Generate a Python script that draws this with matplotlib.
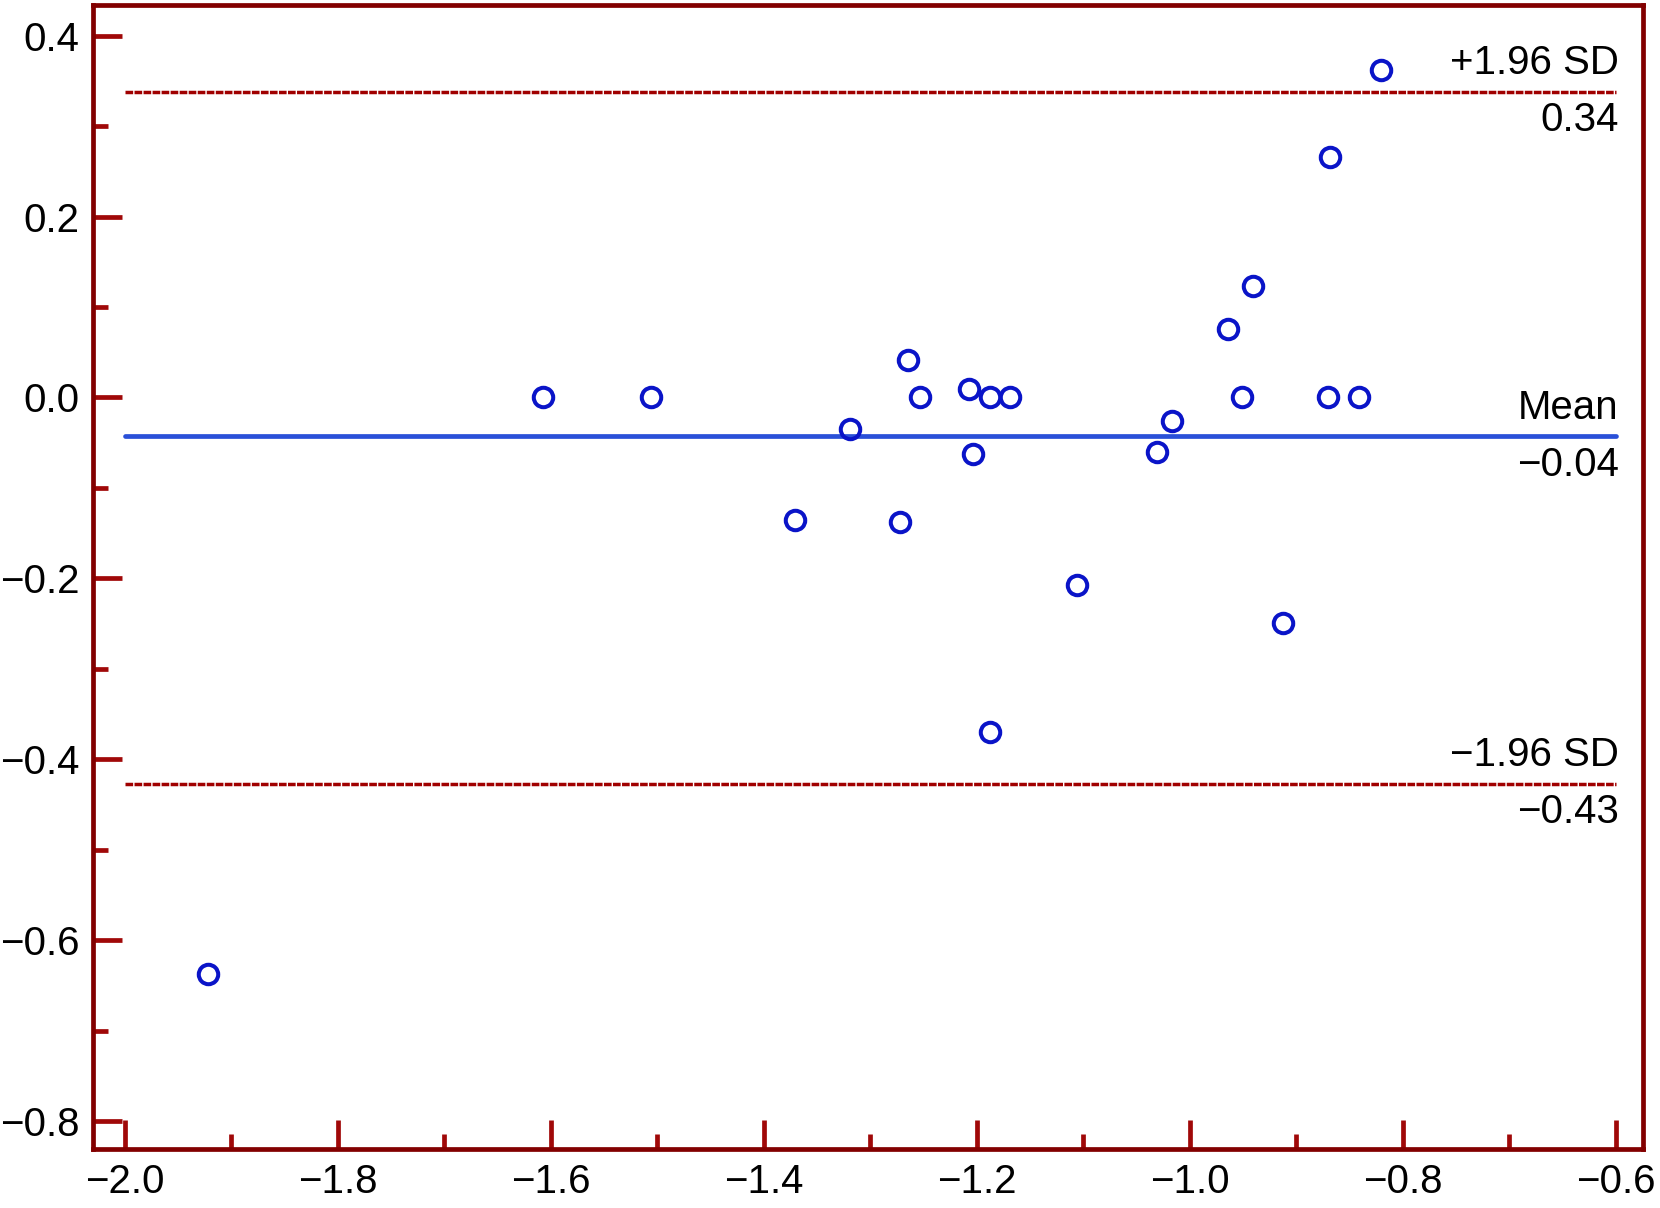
import matplotlib
matplotlib.use("Agg")
import matplotlib.pyplot as plt
from matplotlib.ticker import MultipleLocator

plt.rcParams["font.family"] = ["Liberation Sans", "DejaVu Sans"]

# Bland-Altman points
avg = [-1.922, -1.607, -1.506, -1.371, -1.319, -1.272, -1.265, -1.253,
       -1.207, -1.204, -1.188, -1.188, -1.169, -1.106, -1.031, -1.017,
       -0.964, -0.951, -0.941, -0.912, -0.870, -0.868, -0.841, -0.820]
diff = [-0.637, 0.0, 0.0, -0.136, -0.035, -0.138, 0.041, 0.0,
        0.009, -0.062, 0.0, -0.370, 0.0, -0.207, -0.060, -0.026,
        0.076, 0.0, 0.123, -0.249, 0.0, 0.266, 0.0, 0.362]

mean_diff = -0.043
upper = 0.338
lower = -0.427
line_x = [-2.0, -0.6]

spine_col = "#820000"
tick_col = "#A00808"
red_line = "#A00000"
blue_line = "#2A50D8"

fig = plt.figure(figsize=(16.6, 12.08), dpi=100)
ax = fig.add_axes([0.056, 0.0488, 0.934, 0.9471])

ax.plot(line_x, [upper, upper], color=red_line, lw=2.5, dashes=(2.2, 0.4))
ax.plot(line_x, [lower, lower], color=red_line, lw=2.5, dashes=(2.2, 0.4))
ax.plot(line_x, [mean_diff, mean_diff], color=blue_line, lw=3.4,
        solid_capstyle="round")

ax.plot(avg, diff, "o", mfc="none", mec="#0A14C8", ms=14, mew=2.9)

ax.set_xlim(-2.03, -0.574)
ax.set_ylim(-0.831, 0.434)

fs = 29
def side_label(y, top, bottom):
    ax.annotate(top, (line_x[1], y), xytext=(2, 7), textcoords="offset points",
                ha="right", va="bottom", fontsize=fs)
    ax.annotate(bottom, (line_x[1], y), xytext=(2, -7), textcoords="offset points",
                ha="right", va="top", fontsize=fs)

side_label(upper, "+1.96 SD", "0.34")
side_label(mean_diff, "Mean", "\u22120.04")
side_label(lower, "\u22121.96 SD", "\u22120.43")

ax.xaxis.set_major_locator(MultipleLocator(0.2))
ax.xaxis.set_minor_locator(MultipleLocator(0.1))
ax.yaxis.set_major_locator(MultipleLocator(0.2))
ax.yaxis.set_minor_locator(MultipleLocator(0.1))
ax.xaxis.set_major_formatter(lambda v, p: f"{v:.1f}".replace("-", "\u2212"))
ax.yaxis.set_major_formatter(lambda v, p: f"{v:.1f}".replace("-", "\u2212"))

ax.tick_params(which="both", direction="in", color=tick_col, top=False, right=False,
               labelsize=fs, pad=10)
ax.tick_params(which="major", length=21, width=3.4)
ax.tick_params(which="minor", length=11, width=3.4)

for s in ax.spines.values():
    s.set_color(spine_col)
    s.set_linewidth(3.4)

fig.savefig("out.png", dpi=100)
